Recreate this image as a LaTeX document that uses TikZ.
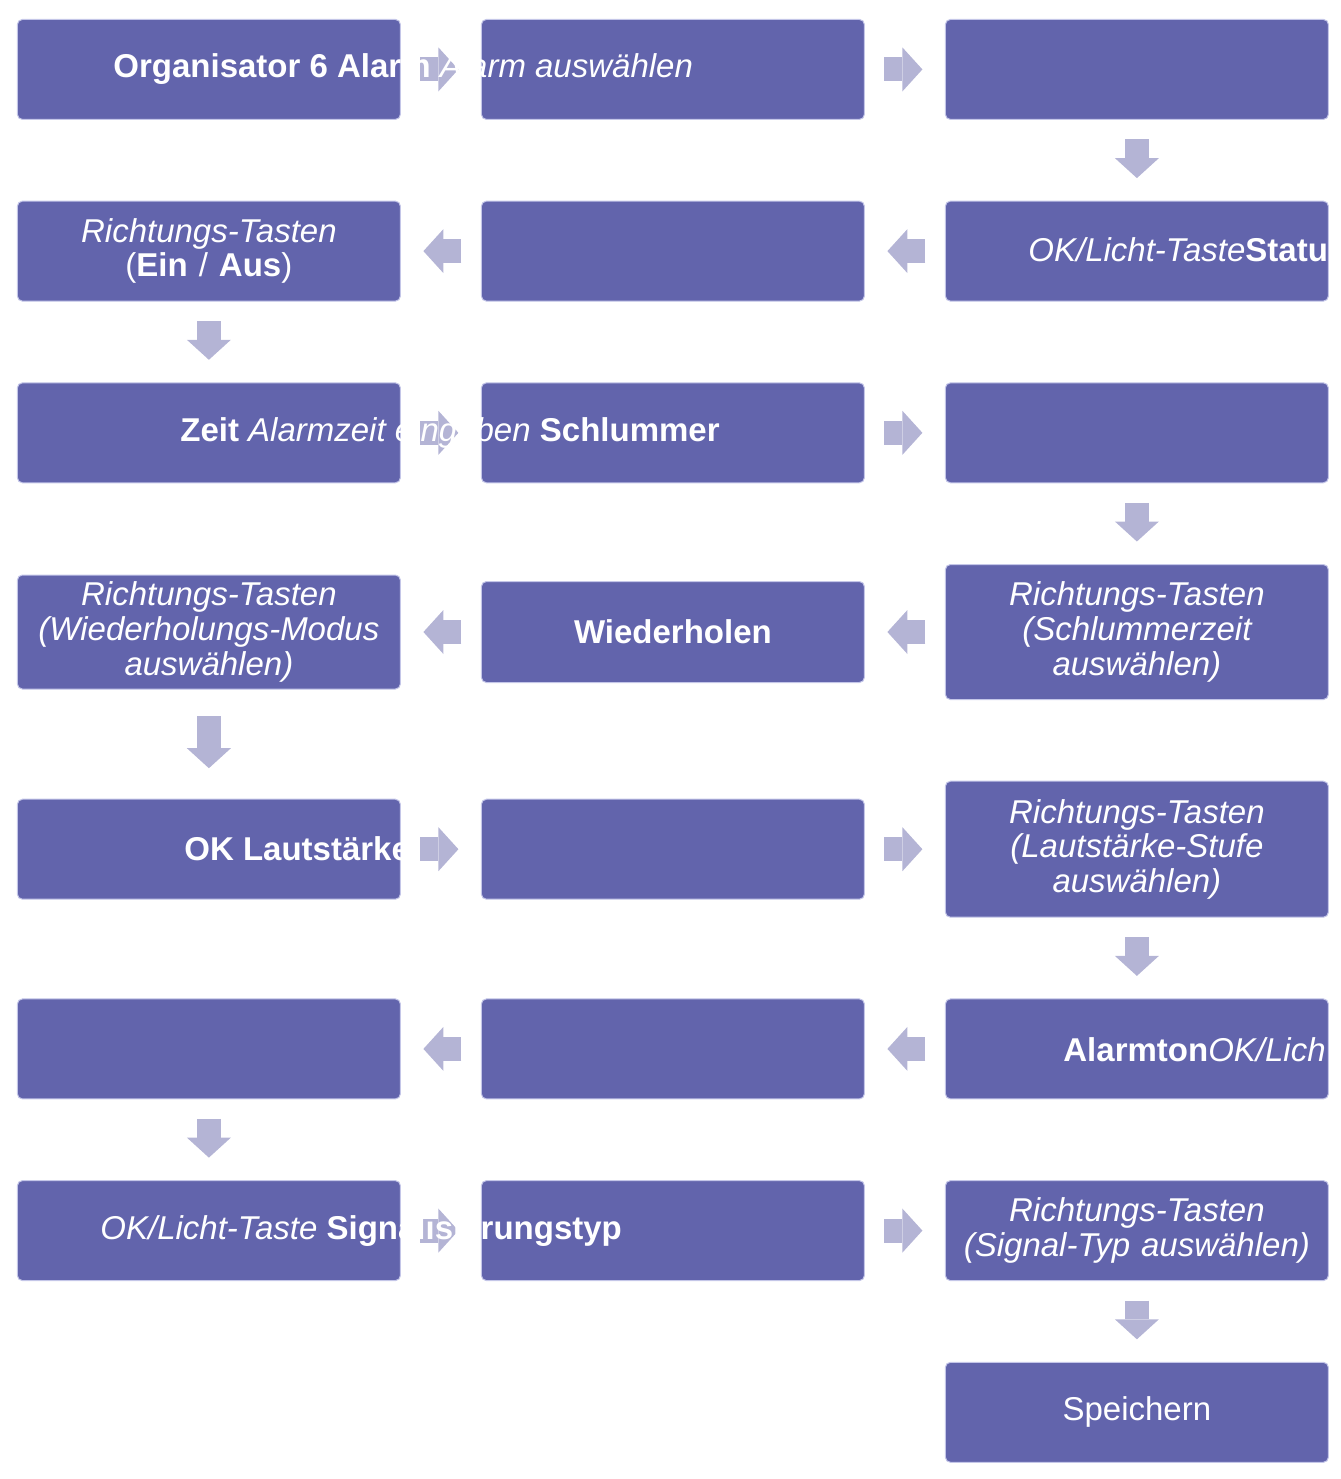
\documentclass[tikz,border=0pt]{standalone}
\usepackage{fontspec}
\setmainfont{Liberation Sans}
\usetikzlibrary{matrix,arrows.meta}
\definecolor{boxfill}{RGB}{98,100,172}
\definecolor{boxline}{RGB}{196,198,232}
\definecolor{flowgray}{RGB}{180,180,213}
\tikzset{
  box/.style={fill=boxfill, draw=boxline, line width=0.5pt, rounded corners=2.5pt,
    text=white, text width=191.5pt, minimum height=50pt, align=center,
    inner sep=0pt, outer sep=0pt, font=\fontsize{16.5pt}{17.3pt}\selectfont},
  txt/.style={text=white, anchor=west, inner sep=0pt,
    font=\fontsize{16.5pt}{17.3pt}\selectfont},
  flow/.style={draw=flowgray, line width=12pt,
    -{Triangle[width=22pt,length=10pt,line width=0pt]},
    shorten <=10pt, shorten >=11.5pt}
}
\begin{document}
\begin{tikzpicture}[x=0.5pt,y=-0.5pt]
  \useasboundingbox (0,0) rectangle (1340,1479);
  \matrix (m) [matrix of nodes,
    nodes={box, anchor=center},
    column sep=40pt, row sep=40.35pt,
    inner sep=0pt, anchor=north west] at (16.5,18.5) {
    |(b11)| & |(b12)| & |(b13)| \\
    |(b21)| {{\itshape Richtungs-Tasten}\\(\textbf{Ein} / \textbf{Aus})} &
      |(b22)| & |(b23)| \\
    |(b31)| & |(b32)| & |(b33)| \\
    |[minimum height=57pt] (b41)|
      {\itshape Richtungs-Tasten\\(Wiederholungs-Modus\\auswählen)} &
      |[minimum height=50.5pt] (b42)| \textbf{Wiederholen} &
      |[minimum height=67.5pt] (b43)|
      {\itshape Richtungs-Tasten\\(Schlummerzeit\\auswählen)} \\
    |(b51)| & |(b52)| &
      |[minimum height=68pt] (b53)|
      {\itshape Richtungs-Tasten\\(Lautstärke-Stufe\\auswählen)} \\
    |(b61)| & |(b62)| & |(b63)| \\
    |(b71)| & |(b72)| &
      |(b73)| {\itshape Richtungs-Tasten\\(Signal-Typ auswählen)} \\
    & & |(b83)| Speichern \\
  };
  % flow between the boxes
  \foreach \a/\b in {b11/b12,b12/b13,b13/b23,b23/b22,b22/b21,b21/b31,
    b31/b32,b32/b33,b33/b43,b43/b42,b42/b41,b51/b52,b52/b53,b53/b63,
    b63/b62,b62/b61,b61/b71,b71/b72,b72/b73,b73/b83}{
    \draw[flow] (\a) -- (\b);
  }
  \draw[flow, shorten <=13.5pt, shorten >=15.5pt] (b41) -- (b51);
  % texts running over the boxes
  \node[txt] (t1) at (113,69)
    {\textbf{Organisator 6 Alarm} \textit{Alarm auswählen}};
  \node[txt] (t2) at (1028,250) {\textit{OK/Licht-Taste}\textbf{Statu}};
  \node[txt] (t3) at (180,433)
    {\textbf{Zeit} \textit{Alarmzeit eingeben} \textbf{Schlummer}};
  \node[txt] (t5) at (184,849) {\textbf{OK Lautstärke}};
  \node[txt] (t6) at (1063,1050) {\textbf{Alarmton}\textit{OK/Lich}};
  \node[txt] (t7) at (100,1231)
    {\textit{OK/Licht-Taste} \textbf{Signalisierungstyp}};
\end{tikzpicture}
\end{document}
